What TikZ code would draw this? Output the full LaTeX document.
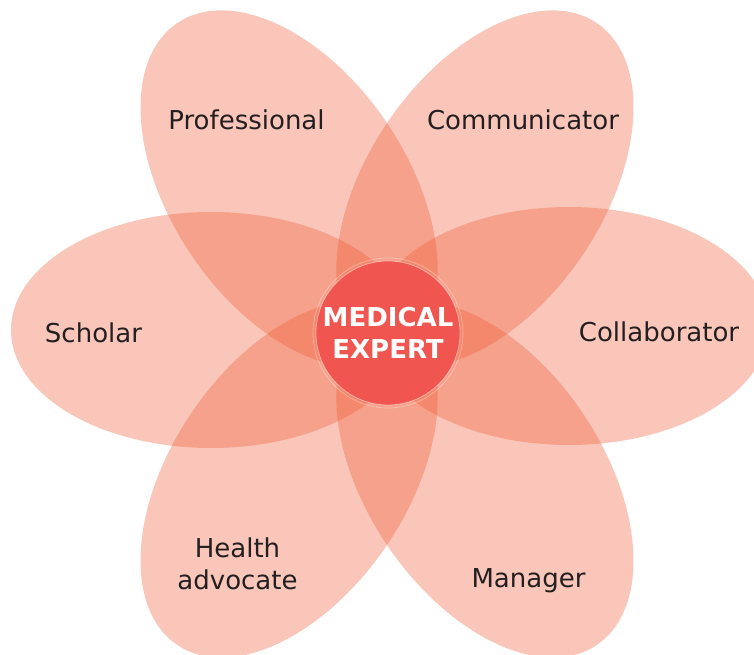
\documentclass[tikz,border=0pt]{standalone}
\usepackage{fontspec}
\setmainfont{DejaVu Sans}
\definecolor{petalc}{RGB}{240,92,55}
\definecolor{corec}{RGB}{240,85,80}
\definecolor{txt}{RGB}{35,31,32}
\begin{document}
\begin{tikzpicture}[x=1pt,y=1pt,
  petal/.style={fill=petalc, fill opacity=0.35},
  lbl/.style={font=\fontsize{26}{32}\selectfont, text=txt, inner sep=0pt, anchor=base, align=center},
  corelbl/.style={font=\fontsize{26}{32}\selectfont\bfseries, text=white, inner sep=0pt, align=center}]
\fill[white] (0,0) rectangle (754,655);
\useasboundingbox (0,0) rectangle (754,655);
\begin{scope}
\clip (0,0) rectangle (754,655);
% horizontal petals
\fill[petal] (211,325) ellipse [x radius=200pt, y radius=118pt];
\fill[petal] (569,329) ellipse [x radius=200pt, y radius=119pt];
% tilted petals
\fill[petal, shift={(289.1,466.1)}, rotate=124] (0,0) ellipse [x radius=200pt, y radius=118pt];
\fill[petal, shift={(484.9,466.1)}, rotate=56] (0,0) ellipse [x radius=200pt, y radius=118pt];
\fill[petal, shift={(289.1,175.9)}, rotate=236] (0,0) ellipse [x radius=200pt, y radius=118pt];
\fill[petal, shift={(484.9,175.9)}, rotate=-56] (0,0) ellipse [x radius=200pt, y radius=118pt];
\end{scope}
% core
\node[circle, fill=corec, minimum size=144pt, inner sep=0pt] (core) at (388,322) {};
\draw[white, draw opacity=0.45, line width=0.8pt] (core.center) circle [radius=72pt];
\draw[white, draw opacity=0.3, line width=0.8pt] (core.center) circle [radius=75pt];
\node[corelbl] (med) at (388,322) {MEDICAL\\EXPERT};
% labels
\node[lbl] (prof) at (246.5,525) {Professional};
\node[lbl] (comm) at (523,525) {Communicator};
\node[lbl] (schol) at (93.5,312) {Scholar};
\node[lbl] (coll) at (659,313) {Collaborator};
\node[lbl] (health) at (237.5,97) {Health};
\node[lbl] (advoc) at (237.5,65) {advocate};
\node[lbl] (mgr) at (528.5,67) {Manager};
\end{tikzpicture}
\end{document}
